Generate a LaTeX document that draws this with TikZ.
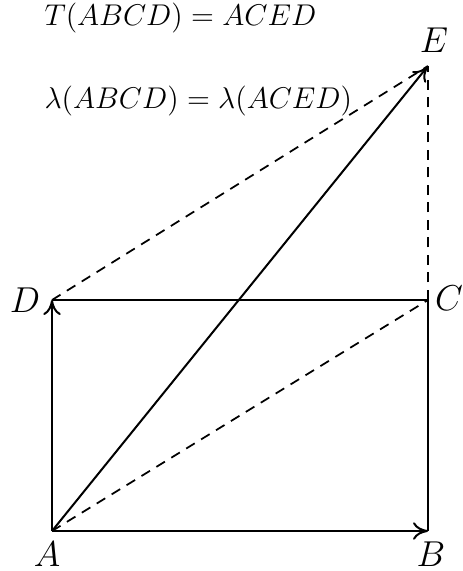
\documentclass[tikz,border=0pt]{standalone}
\usepackage{amsmath}
\usetikzlibrary{arrows.meta,positioning}

\begin{document}
\begin{tikzpicture}[
        x=0.4pt, y=-0.4pt,
        edge/.style={line width=0.8pt},
        arrow/.style={edge, -{To[length=6pt,width=7pt]}},
        dashline/.style={line width=0.7pt, dash pattern=on 4pt off 3pt},
        vlabel/.style={font=\Large, inner sep=1pt},
        eqn/.style={font=\large, anchor=west, inner sep=0pt}
    ]
    \useasboundingbox (0,0) rectangle (462,571);

    % Corner points
    \coordinate (A) at (52,531);
    \coordinate (B) at (428,531);
    \coordinate (C) at (428,300);
    \coordinate (D) at (52,300);
    \coordinate (E) at (428,66);

    % Labels
    \node[vlabel] (lA) at (47,554) {$A$};
    \node[vlabel] (lB) at (431,554) {$B$};
    \node[vlabel] (lC) at (449,298) {$C$};
    \node[vlabel] (lD) at (25,300) {$D$};
    \node[vlabel] (lE) at (434,40) {$E$};

    % Equations
    \node[eqn] (teq) at (44,18) {$T(ABCD) = ACED$};
    \node[eqn] (leq) at (44,101) {$\lambda(ABCD) = \lambda(ACED)$};

    % Rectangle and vectors
    \draw[edge] (D) -- (C) -- (B);
    \draw[arrow] (A) -- (B);
    \draw[arrow] (A) -- (D);
    \draw[arrow] (A) -- (E);

    % Dashed parallelogram
    \draw[dashline] (A) -- (C);
    \draw[dashline] (C) -- (E);
    \draw[dashline] (D) -- (E);

\end{tikzpicture}
\end{document}
